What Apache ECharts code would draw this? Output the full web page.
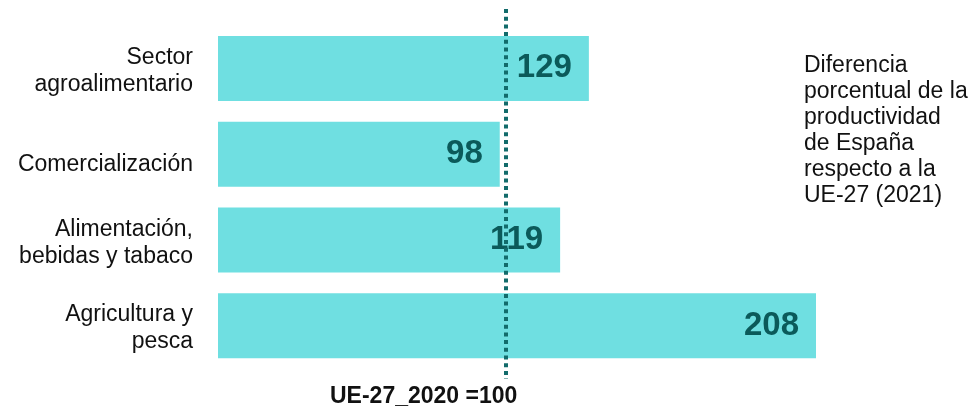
<!DOCTYPE html>
<html>
<head>
    <meta charset="utf-8">
    <style>
        html, body { height: 100%; }
        * { margin: 0; padding: 0; }
        #container { width: 972px; height: 408px; background: #fff; }
    </style>
</head>
<body>
<div id="container"></div>
<script type="text/javascript" src="https://cdn.jsdelivr.net/npm/echarts/dist/echarts.min.js"></script>
<script type="text/javascript">
    // datos
    let categories = ['Sector\nagroalimentario', 'Comercialización', 'Alimentación,\nbebidas y tabaco', 'Agricultura y\npesca'];
    let values = [129, 98, 119, 208];
    let referencia = 100;
    let notaDerecha = 'Diferencia\nporcentual de la\nproductividad\nde España\nrespecto a la\nUE-27 (2021)';
    let notaAbajo = 'UE-27_2020 =100';

    let dom = document.getElementById("container");
    let myChart = echarts.init(dom);
    let font = '"Liberation Sans", Arial, sans-serif';

    let option = {
        animation: false,
        grid: {
            left: 218,
            width: 690,
            top: 25.5,
            height: 343
        },
        xAxis: {
            type: 'value',
            min: 0,
            max: 240,
            show: false
        },
        yAxis: {
            type: 'category',
            inverse: true,
            data: categories,
            axisLine: { show: false },
            axisTick: { show: false },
            axisLabel: {
                margin: 25,
                fontFamily: font,
                fontSize: 23,
                lineHeight: 27,
                color: '#111',
                padding: [6, 0, 0, 0],
                // las etiquetas de una sola línea quedan algo más bajas en el original
                formatter: function (v) {
                    return v.indexOf('\n') < 0 ? '{low|' + v + '}' : v;
                },
                rich: {
                    low: {
                        fontFamily: font,
                        fontSize: 23,
                        color: '#111',
                        padding: [16, 0, 0, 0]
                    }
                }
            }
        },
        series: [{
            type: 'bar',
            data: values,
            barWidth: 65,
            itemStyle: { color: '#6fdfe1' },
            label: {
                show: true,
                position: 'insideRight',
                distance: 17,
                fontFamily: font,
                fontWeight: 'bold',
                fontSize: 33,
                color: '#0b5a5a'
            },
            markLine: {
                silent: true,
                symbol: 'none',
                label: { show: false },
                lineStyle: {
                    color: '#126b6b',
                    width: 4,
                    type: [4, 3.7]
                },
                data: [[
                    { xAxis: referencia, yAxis: 0, y: 9 },
                    { xAxis: referencia, yAxis: 3, y: 379 }
                ]]
            },
            z: 2
        }],
        graphic: [
            {
                type: 'text',
                left: 804,
                top: 53,
                style: {
                    text: notaDerecha,
                    fontFamily: font,
                    fontSize: 23,
                    lineHeight: 26,
                    fill: '#111'
                }
            },
            {
                type: 'text',
                left: 330,
                top: 385,
                style: {
                    text: notaAbajo,
                    fontFamily: font,
                    fontWeight: 'bold',
                    fontSize: 23,
                    fill: '#111'
                }
            }
        ]
    };
    myChart.setOption(option, true);
</script>
</body>
</html>
